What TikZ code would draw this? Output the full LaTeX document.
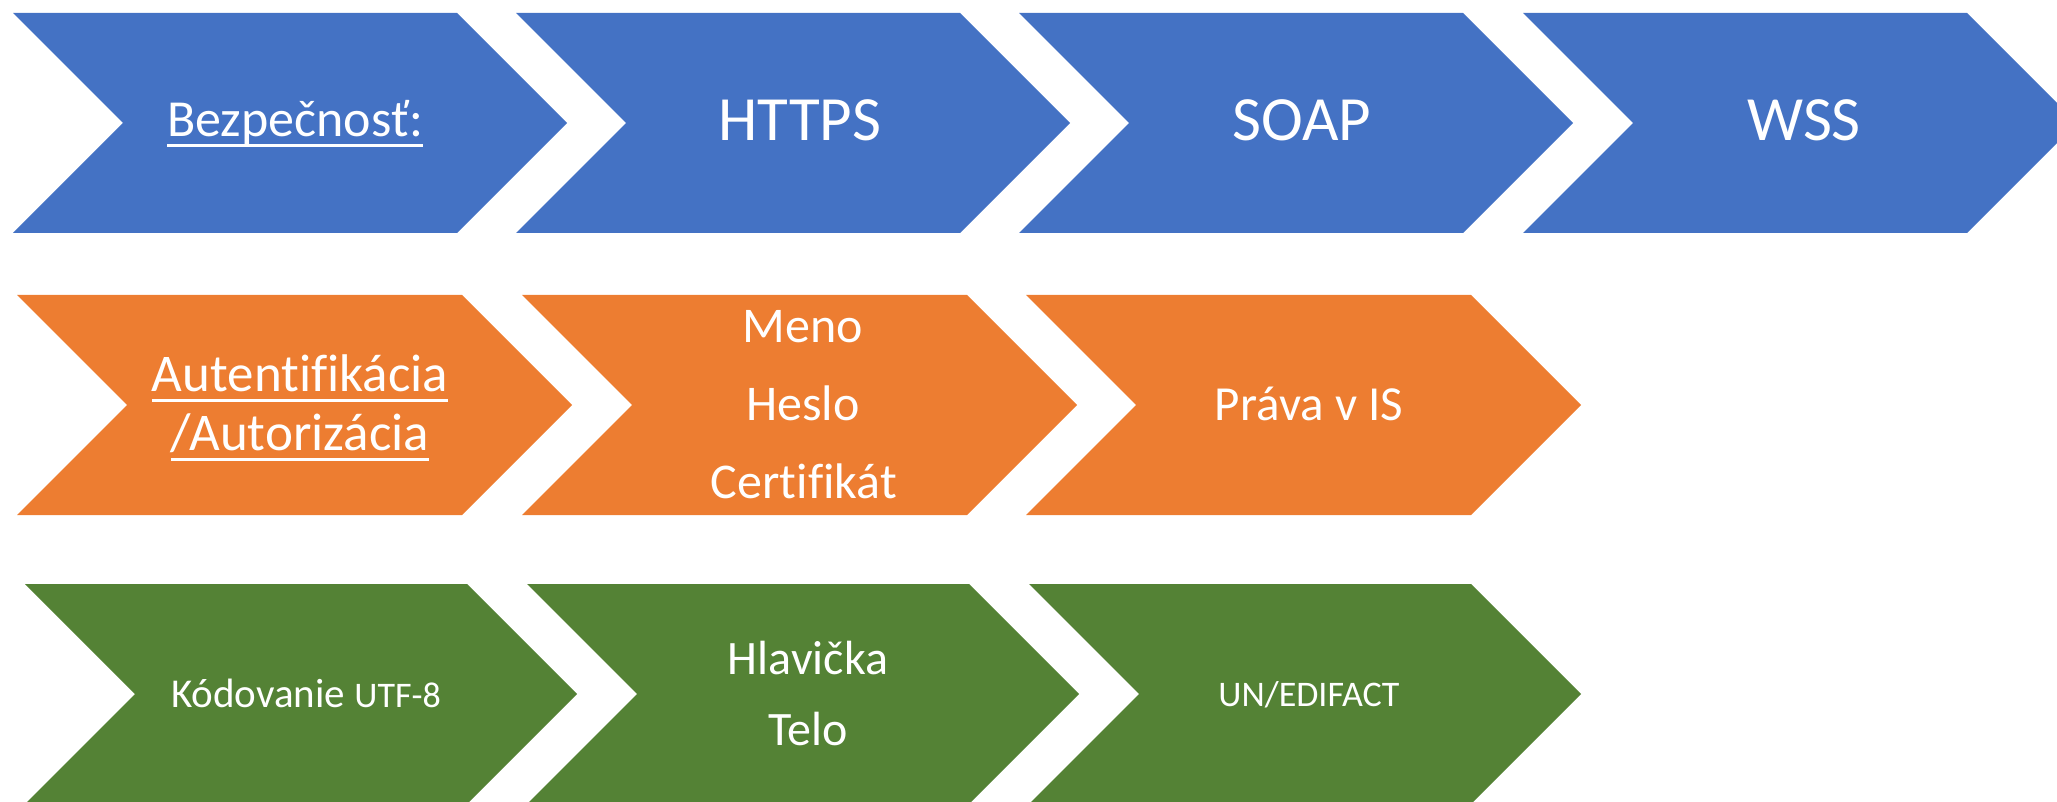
\documentclass[tikz,border=0pt]{standalone}
\usepackage{fontspec}
\setmainfont[Ligatures=NoCommon]{Carlito}
\definecolor{chblue}{HTML}{4472C4}
\definecolor{chorange}{HTML}{ED7D31}
\definecolor{chgreen}{HTML}{548235}
\newcommand{\fsz}[1]{\fontsize{#1}{#1}\selectfont}
\newcommand{\ultext}[1]{{\setbox0\hbox{#1}\rlap{\rule[-0.19em]{\wd0}{0.05em}}\box0}}
\begin{document}
\begin{tikzpicture}[x=0.5pt,y=-0.5pt,
  lbl/.style={text=white,inner sep=0pt,anchor=base}]
 \useasboundingbox (0,0) rectangle (2057,802);
 \clip (0,0) rectangle (2057,802);
 % chevrons
 \foreach \x in {13,516,1019,1523}
  \fill[chblue] (\x,13) -- ++(444,0) -- ++(110,110) -- ++(-110,110) -- ++(-444,0) -- ++(110,-110) -- cycle;
 \foreach \x in {17,522,1026}
  \fill[chorange] (\x,295) -- ++(445,0) -- ++(110,110) -- ++(-110,110) -- ++(-445,0) -- ++(110,-110) -- cycle;
 \foreach \x in {25,527,1029}
  \fill[chgreen] (\x,584) -- ++(442,0) -- ++(110,110) -- ++(-110,110) -- ++(-442,0) -- ++(110,-110) -- cycle;
 % blue row
 \node[lbl,font=\fsz{26pt}] (bezp) at (295,137) {\ultext{Bezpečnosť:}};
 \node[lbl,font=\fsz{31.5pt}] (https) at (800,141) {HTTPS};
 \node[lbl,font=\fsz{31.5pt}] (soap) at (1302,141) {SOAP};
 \node[lbl,font=\fsz{31.5pt}] (wss) at (1804,141) {WSS};
 % orange row
 \node[lbl,font=\fsz{26.5pt}] (auth) at (300,392) {\ultext{Autentifikácia}};
 \node[lbl,font=\fsz{26.5pt}] (autor) at (300,451) {\ultext{/Autorizácia}};
 \node[lbl,font=\fsz{25pt}] (meno) at (803,343) {Meno};
 \node[lbl,font=\fsz{25pt}] (heslo) at (803,421) {Heslo};
 \node[lbl,font=\fsz{25pt}] (cert) at (804,498) {Certifikát};
 \node[lbl,font=\fsz{24.5pt}] (prava) at (1309,420) {Práva v IS};
 % green row
 \node[lbl,font=\fsz{20.5pt}] (kod) at (306,707) {Kódovanie {\fsz{18pt}UTF-8}};
 \node[lbl,font=\fsz{24pt}] (hlav) at (808,674) {Hlavička};
 \node[lbl,font=\fsz{24pt}] (telo) at (808,745) {Telo};
 \node[lbl,font=\fsz{18pt}] (edi) at (1309,706) {UN/EDIFACT};
\end{tikzpicture}
\end{document}
